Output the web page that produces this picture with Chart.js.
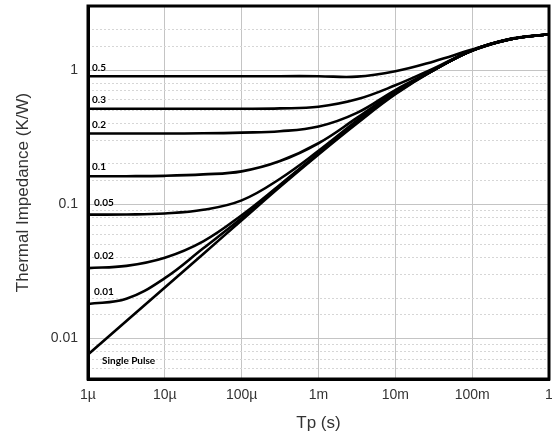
<!DOCTYPE html>
<html><head><meta charset="utf-8">
<script src="https://cdn.jsdelivr.net/npm/chart.js@4"></script>
<style>html,body{margin:0;padding:0;background:#fff}#wrap{width:552px;height:438px}</style>
</head><body><div id="wrap"><canvas id="c" width="552" height="438"></canvas></div>
<script>
// Pulse width Tp (s), half-decade points
const tp = [1e-6, 3.16e-6, 1e-5, 3.16e-5, 1e-4, 3.16e-4, 1e-3, 3.16e-3, 1e-2, 3.16e-2, 0.1, 0.316, 1];
// Thermal impedance (K/W) per duty cycle
const zD050 = [0.90, 0.90, 0.90, 0.90, 0.90, 0.90, 0.90, 0.893, 0.98, 1.16, 1.42, 1.71, 1.85];
const zD030 = [0.515, 0.515, 0.515, 0.515, 0.515, 0.518, 0.533, 0.605, 0.77, 1.03, 1.40, 1.70, 1.85];
const zD020 = [0.337, 0.337, 0.337, 0.338, 0.342, 0.35, 0.38, 0.48, 0.71, 1.0, 1.40, 1.70, 1.85];
const zD010 = [0.162, 0.162, 0.163, 0.167, 0.176, 0.21, 0.285, 0.44, 0.69, 1.0, 1.40, 1.70, 1.85];
const zD005 = [0.0838, 0.084, 0.0855, 0.091, 0.107, 0.155, 0.25, 0.42, 0.69, 1.0, 1.40, 1.70, 1.85];
const zD002 = [0.0335, 0.0348, 0.040, 0.053, 0.083, 0.14, 0.24, 0.41, 0.68, 1.0, 1.40, 1.70, 1.85];
const zD001 = [0.0181, 0.0198, 0.0282, 0.047, 0.079, 0.138, 0.238, 0.41, 0.67, 1.0, 1.40, 1.70, 1.85];
const zSingle = [0.0076, 0.0135, 0.024, 0.0427, 0.076, 0.135, 0.235, 0.40, 0.66, 1.0, 1.40, 1.70, 1.85];
const seriesNames = ['0.5', '0.3', '0.2', '0.1', '0.05', '0.02', '0.01', 'Single Pulse'];
const seriesValues = [zD050, zD030, zD020, zD010, zD005, zD002, zD001, zSingle];
// Tick labels
const xTickValues = [1e-6, 1e-5, 1e-4, 1e-3, 1e-2, 1e-1, 1];
const xTickLabels = ['1µ', '10µ', '100µ', '1m', '10m', '100m', '1'];
const yTickValues = [0.01, 0.1, 1];
const yTickLabels = ['0.01', '0.1', '1'];

// label offsets (style only)
const labelDy = [-8, -9, -9, -9, -12, -12, -12, 6];
const labelDx = [4, 4, 4, 4, 6, 6, 6, 14];

function findLabel(v, vals, labs) {
  for (let i = 0; i < vals.length; i++) {
    if (Math.abs(Math.log10(v) - Math.log10(vals[i])) < 1e-6) return labs[i];
  }
  return '';
}
function isMajor(v) { const l = Math.log10(v); return Math.abs(l - Math.round(l)) < 1e-6; }

const datasets = seriesValues.map((vals, i) => ({
  label: seriesNames[i],
  data: tp.map((t, j) => ({ x: t, y: vals[j] })),
  borderColor: '#000',
  borderWidth: 2.6,
  pointRadius: 0,
  fill: false,
  tension: 0.4
}));

const frame = {
  id: 'frame',
  afterDatasetsDraw(chart) {
    const { ctx, chartArea: a, scales } = chart;
    ctx.save();
    ctx.font = 'bold 10px Lato';
    ctx.fillStyle = '#000';
    ctx.textBaseline = 'middle';
    ctx.textAlign = 'left';
    seriesValues.forEach((vals, i) => {
      const y = scales.y.getPixelForValue(vals[0]) + labelDy[i];
      ctx.fillText(seriesNames[i], a.left + labelDx[i], y);
    });
    ctx.strokeStyle = '#000';
    ctx.lineWidth = 3;
    ctx.strokeRect(a.left, a.top, a.right - a.left, a.bottom - a.top);
    ctx.restore();
  }
};

const majorColor = '#c4c4c4';
const minorColor = '#d6d6d6';
const noPad = s => { s.paddingTop = 0; s.paddingBottom = 0; s.paddingLeft = 0; s.paddingRight = 0; };

new Chart(document.getElementById('c'), {
  type: 'line',
  data: { datasets },
  plugins: [frame],
  options: {
    responsive: false,
    devicePixelRatio: 1,
    animation: false,
    layout: { padding: { left: 0, top: 6, right: 3, bottom: 0 } },
    plugins: { legend: { display: false }, tooltip: { enabled: false } },
    scales: {
      x: {
        type: 'logarithmic',
        min: 1e-6, max: 1,
        afterFit: s => { s.height = 59; noPad(s); },
        grid: { drawTicks: false, lineWidth: 1, color: c => (c.tick && isMajor(c.tick.value)) ? majorColor : 'rgba(0,0,0,0)' },
        border: { display: true, color: '#000', width: 3 },
        ticks: {
          autoSkip: false, maxRotation: 0, padding: 8,
          color: '#333', font: { family: 'Liberation Sans', size: 14 },
          callback: v => findLabel(v, xTickValues, xTickLabels)
        },
        title: { display: true, text: 'Tp (s)', color: '#333', font: { family: 'Liberation Sans', size: 17 }, padding: { top: 4, bottom: 4 } }
      },
      y: {
        type: 'logarithmic',
        min: 0.005, max: 3,
        afterFit: s => { s.width = 88; noPad(s); },
        grid: { drawTicks: false, lineWidth: 1, color: c => (c.tick && isMajor(c.tick.value)) ? majorColor : 'rgba(0,0,0,0)' },
        border: { display: true, color: '#000', width: 3 },
        ticks: {
          autoSkip: false, padding: 10,
          color: '#333', font: { family: 'Liberation Sans', size: 14 },
          callback: v => findLabel(v, yTickValues, yTickLabels)
        },
        title: { display: true, text: 'Thermal Impedance (K/W)', color: '#333', font: { family: 'Liberation Sans', size: 17 }, padding: { top: 13, bottom: 4 } }
      },
      yMinor: {
        type: 'logarithmic',
        position: 'left',
        min: 0.005, max: 3,
        afterFit: s => { s.width = 0; noPad(s); },
        grid: { drawTicks: false, lineWidth: 1, color: c => (c.tick && isMajor(c.tick.value)) ? 'rgba(0,0,0,0)' : minorColor },
        border: { display: false, dash: [2, 2] },
        ticks: { display: false, autoSkip: false }
      }
    }
  }
});
</script></body></html>
